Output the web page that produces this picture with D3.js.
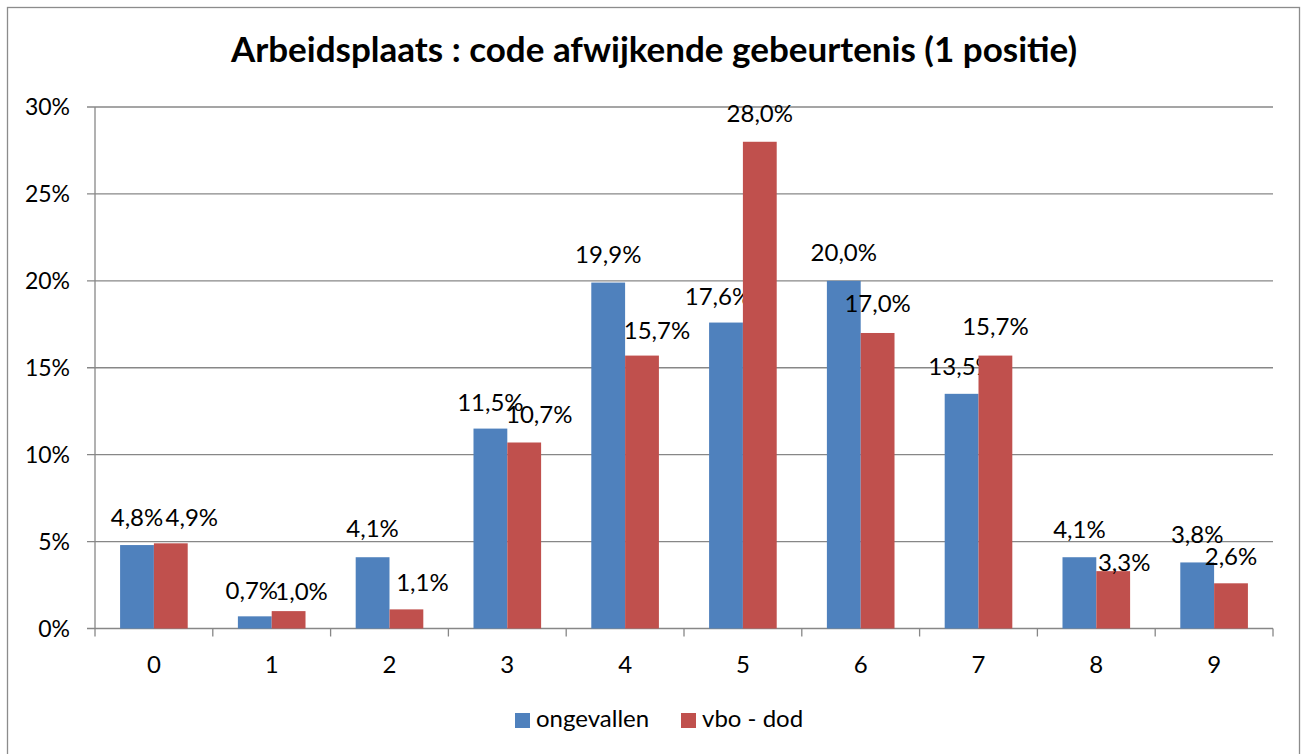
<!DOCTYPE html>
<html>
<head>
<meta charset="utf-8">
<script src="https://cdn.jsdelivr.net/npm/d3@7"></script>
<style>
  body { margin: 0; background: #fff; }
  svg { display: block; font-family: Lato, "Open Sans", sans-serif; }
</style>
</head>
<body>
<script>
// chart values
const categories = ['0', '1', '2', '3', '4', '5', '6', '7', '8', '9'];
const ongevallen = [4.8, 0.7, 4.1, 11.5, 19.9, 17.6, 20.0, 13.5, 4.1, 3.8];
const vboDod = [4.9, 1.0, 1.1, 10.7, 15.7, 28.0, 17.0, 15.7, 3.3, 2.6];
const yTicks = [0, 5, 10, 15, 20, 25, 30];
const seriesNames = ['ongevallen', 'vbo - dod'];
const seriesColors = ['#4f81bd', '#c0504d'];

// Excel pushed some labels aside to avoid overlaps: [dx, dy] per label
const labelShiftBlue = [[0, 0], [-3, 2], [0, -1], [0, 1], [0, -1], [-8, 1], [0, -1], [0, 0], [0, 0], [0, 0]];
const labelShiftRed = [[21, 2], [13, 8], [16, 1], [15, 0], [15, 2], [0, -1], [0, -2], [0, -2], [11, 19], [0, 1]];

const width = 1302, height = 754;
const margin = { top: 107, right: 29, bottom: 125.5, left: 95 };
const plotW = width - margin.left - margin.right;
const plotH = height - margin.top - margin.bottom;

const fmt = v => v.toFixed(1).replace('.', ',') + '%';

const svg = d3.select('body')
    .append('svg')
    .attr('width', width)
    .attr('height', height);

// chart border
svg.append('rect')
    .attr('x', 7.5)
    .attr('y', 7.5)
    .attr('width', 1292)
    .attr('height', 760)
    .attr('fill', 'none')
    .attr('stroke', '#8c8c8c')
    .attr('stroke-width', 1.3);

svg.append('text')
    .attr('x', 654)
    .attr('y', 62)
    .attr('text-anchor', 'middle')
    .style('font-size', '35px')
    .style('font-weight', 'bold')
    .text('Arbeidsplaats : code afwijkende gebeurtenis (1 positie)');

const g = svg.append('g')
    .attr('transform', 'translate(' + margin.left + ',' + margin.top + ')');

const x0 = d3.scaleBand()
    .domain(categories)
    .range([0, plotW]);

const x1 = d3.scaleBand()
    .domain(seriesNames)
    .range([x0.bandwidth() * 0.213, x0.bandwidth() * 0.787]);

const y = d3.scaleLinear()
    .domain([0, 30])
    .range([plotH, 0]);

// gridlines
g.selectAll('.grid')
    .data(yTicks)
    .enter()
    .append('line')
    .attr('x1', -8)
    .attr('x2', plotW)
    .attr('y1', d => y(d))
    .attr('y2', d => y(d))
    .attr('stroke', '#878787')
    .attr('stroke-width', 1.3);

// y tick labels
g.selectAll('.ylab')
    .data(yTicks)
    .enter()
    .append('text')
    .attr('x', -25)
    .attr('y', d => y(d) + 8)
    .attr('text-anchor', 'end')
    .style('font-size', '23px')
    .text(d => d + '%');

// y axis line
g.append('line')
    .attr('x1', 0).attr('x2', 0)
    .attr('y1', 0).attr('y2', plotH)
    .attr('stroke', '#878787')
    .attr('stroke-width', 1.3);

// category tick marks
g.selectAll('.xtick')
    .data(categories.concat(['end']))
    .enter()
    .append('line')
    .attr('x1', (d, i) => i * x0.step())
    .attr('x2', (d, i) => i * x0.step())
    .attr('y1', plotH)
    .attr('y2', plotH + 8)
    .attr('stroke', '#878787')
    .attr('stroke-width', 1.3);

g.selectAll('.xlab')
    .data(categories)
    .enter()
    .append('text')
    .attr('x', d => x0(d) + x0.bandwidth() / 2)
    .attr('y', plotH + 44)
    .attr('text-anchor', 'middle')
    .style('font-size', '24px')
    .text(d => d);

const seriesData = [ongevallen, vboDod];
const shifts = [labelShiftBlue, labelShiftRed];

seriesNames.forEach(function (name, s) {
    const rows = categories.map((c, i) => ({ cat: c, value: seriesData[s][i], shift: shifts[s][i] }));

    g.selectAll('.bar-' + s)
        .data(rows)
        .enter()
        .append('rect')
        .attr('x', d => x0(d.cat) + x1(name))
        .attr('y', d => y(d.value))
        .attr('width', x1.bandwidth())
        .attr('height', d => plotH - y(d.value))
        .attr('fill', seriesColors[s]);

    g.selectAll('.lab-' + s)
        .data(rows)
        .enter()
        .append('text')
        .attr('x', d => x0(d.cat) + x1(name) + x1.bandwidth() / 2 + d.shift[0])
        .attr('y', d => y(d.value) - 19 + d.shift[1])
        .attr('text-anchor', 'middle')
        .style('font-size', '24px')
        .text(d => fmt(d.value));
});

// legend
const legend = svg.append('g')
    .attr('transform', 'translate(515, 713)');

const legendX = [0, 166];
seriesNames.forEach(function (name, s) {
    legend.append('rect')
        .attr('x', legendX[s])
        .attr('y', 0)
        .attr('width', 15)
        .attr('height', 15)
        .attr('fill', seriesColors[s]);
    legend.append('text')
        .attr('x', legendX[s] + 21)
        .attr('y', 14)
        .style('font-size', '24px')
        .text(name);
});
</script>
</body>
</html>
